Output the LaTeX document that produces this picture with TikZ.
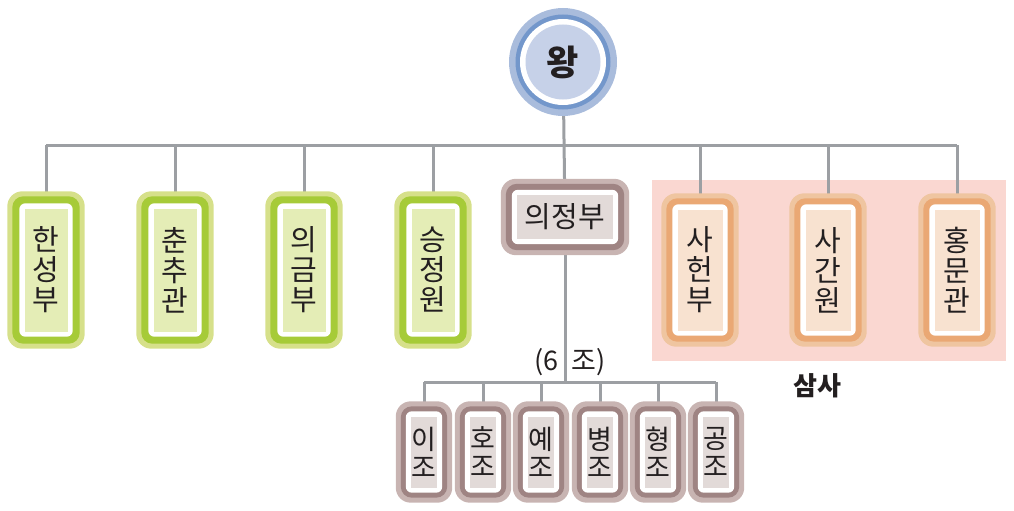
\documentclass[tikz,border=0pt]{standalone}
\usepackage{fontspec}
\setmainfont{Noto Sans CJK KR}
\usetikzlibrary{calc,backgrounds}
\pgfdeclarelayer{edges}
\pgfsetlayers{edges,background,main}
\definecolor{gout}{HTML}{D6E08A}
\definecolor{gmid}{HTML}{A6CB38}
\definecolor{gin}{HTML}{E4EDB6}
\definecolor{oout}{HTML}{EFC5A0}
\definecolor{omid}{HTML}{EAA874}
\definecolor{oin}{HTML}{F8E2D0}
\definecolor{mout}{HTML}{C8B4B2}
\definecolor{mmid}{HTML}{9F8483}
\definecolor{min}{HTML}{E2DAD8}
\definecolor{bout}{HTML}{A9BCDC}
\definecolor{bmid}{HTML}{7397CB}
\definecolor{bin}{HTML}{C6D1E8}
\definecolor{pinkbg}{HTML}{FAD7D1}
\definecolor{linec}{HTML}{9C9FA3}
\definecolor{txt}{HTML}{231F20}
\tikzset{
  conn/.style={draw=linec, line width=3pt},
  bigtxt/.style={font=\fontsize{29}{30}\selectfont, text=txt, align=center},
  smalltxt/.style={font=\fontsize{27}{28}\selectfont, text=txt, align=center},
}
% #1 name, #2 position, #3 inner width, #4 inner height, #5 palette, #6 text style, #7 text, #8 outer margin
\newcommand\layerbox[8]{%
  \node[fill=#5in, minimum width=#3, minimum height=#4, inner sep=0pt, #6] (#1) at (#2) {#7};
  \begin{pgfonlayer}{background}
    \fill[#5out, rounded corners=15pt] ($(#1.south west)+(-#8pt,-#8pt)$) rectangle ($(#1.north east)+(#8pt,#8pt)$);
    \fill[#5mid, rounded corners=11pt] ($(#1.south west)+(-#8pt+5pt,-#8pt+5pt)$) rectangle ($(#1.north east)+(#8pt-5pt,#8pt-5pt)$);
    \fill[white, rounded corners=6pt] ($(#1.south west)+(-5pt,-5pt)$) rectangle ($(#1.north east)+(5pt,5pt)$);
  \end{pgfonlayer}
}
\begin{document}
\begin{tikzpicture}[x=1pt,y=-1pt]
\useasboundingbox (0,0) rectangle (1014,511);
% pink background
\begin{pgfonlayer}{edges}
  \fill[pinkbg] (652,180) rectangle (1006,361);
\end{pgfonlayer}
% king
\node[circle, fill=bin, minimum size=75pt, inner sep=0pt, font=\fontsize{35}{36}\selectfont\bfseries, text=txt] (king) at (563,62) {왕};
\begin{pgfonlayer}{background}
  \fill[bout] (king.center) circle (54pt);
  \fill[bmid] (king.center) circle (47.5pt);
  \fill[white] (king.center) circle (43pt);
\end{pgfonlayer}
% top-level boxes
\layerbox{hs}{46,270}{43pt}{123pt}{g}{bigtxt}{한\\성\\부}{17}
\layerbox{cc}{175,270}{43pt}{123pt}{g}{bigtxt}{춘\\추\\관}{17}
\layerbox{ug}{304,270}{43pt}{123pt}{g}{bigtxt}{의\\금\\부}{17}
\layerbox{sj}{433,270}{43pt}{123pt}{g}{bigtxt}{승\\정\\원}{17}
\layerbox{uj}{565,217}{96pt}{44pt}{m}{bigtxt}{의정부}{16}
\layerbox{sh}{700,270}{45pt}{121pt}{o}{bigtxt}{사\\헌\\부}{16}
\layerbox{sg}{828,270}{45pt}{121pt}{o}{bigtxt}{사\\간\\원}{16}
\layerbox{hm}{957,270}{45pt}{121pt}{o}{bigtxt}{홍\\문\\관}{16}
% six ministries
\layerbox{ij}{424,452}{26pt}{71pt}{m}{smalltxt}{이\\조}{15}
\layerbox{hj}{483,452}{26pt}{71pt}{m}{smalltxt}{호\\조}{15}
\layerbox{yj}{541,452}{26pt}{71pt}{m}{smalltxt}{예\\조}{15}
\layerbox{bj}{600,452}{26pt}{71pt}{m}{smalltxt}{병\\조}{15}
\layerbox{hyj}{658,452}{26pt}{71pt}{m}{smalltxt}{형\\조}{15}
\layerbox{gj}{716,452}{26pt}{71pt}{m}{smalltxt}{공\\조}{15}
% labels
\node[font=\fontsize{27}{28}\selectfont, text=txt, anchor=east, inner sep=0pt] (six1) at (559,362) {(6};
\node[font=\fontsize{27}{28}\selectfont, text=txt, anchor=west, inner sep=0pt] (six2) at (571,362) {조)};
\node[font=\fontsize{26}{28}\selectfont\bfseries, text=txt] (samsa) at (817,386) {삼사};
% connectors
\coordinate (bar) at (565,145);
\coordinate (bar2) at (565,382);
\begin{pgfonlayer}{edges}
  \draw[conn] (king.center) -- (uj.center);
  \draw[conn] (uj.center) -- (bar2);
  \draw[conn] (bar -| hs) -- (bar -| hm);
  \foreach \n in {hs,cc,ug,sj,sh,sg,hm} {\draw[conn] (bar -| \n) -- (\n.center);}
  \draw[conn] (bar2 -| ij) -- (bar2 -| gj);
  \foreach \n in {ij,hj,yj,bj,hyj,gj} {\draw[conn] (bar2 -| \n) -- (\n.center);}
\end{pgfonlayer}
\end{tikzpicture}
\end{document}
